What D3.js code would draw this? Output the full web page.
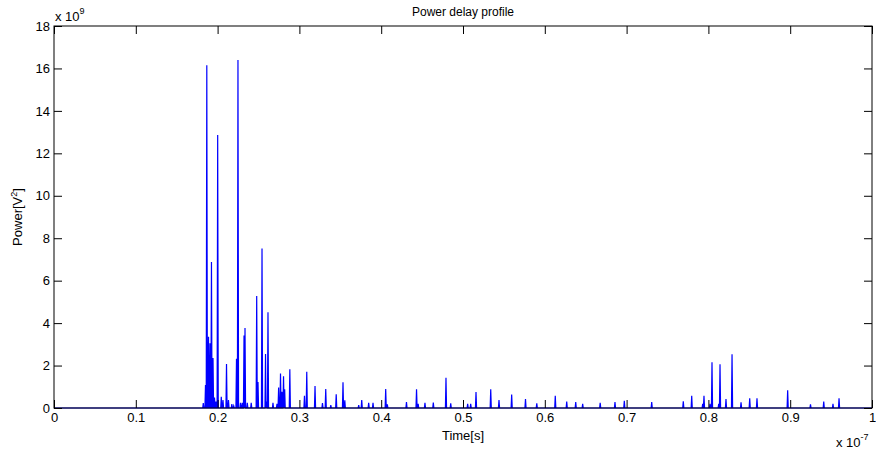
<!DOCTYPE html>
<html>
<head>
<meta charset="utf-8">
<script src="https://cdn.jsdelivr.net/npm/d3@7"></script>
<style>
  body { margin: 0; background: #fff; }
  text { font-family: "Liberation Sans", Arial, sans-serif; fill: #000; }
</style>
</head>
<body>
<svg id="chart" width="876" height="453"></svg>
<script>
// Arrival times of the multipath components (x 1e-7 s) and their power (x 1e9 V^2)
const spikeTime = [
  0.1825, 0.1852, 0.1868, 0.1889, 0.1907, 0.1925, 0.1944, 0.1962, 0.1980, 0.2001,
  0.2045, 0.2066, 0.2109, 0.2133, 0.2174, 0.2197, 0.2231, 0.2249, 0.2280, 0.2302,
  0.2323, 0.2335, 0.2363, 0.2411, 0.2478, 0.2494, 0.2543, 0.2586, 0.2598, 0.2616,
  0.2677, 0.2726, 0.2746, 0.2769, 0.2787, 0.2806, 0.2820, 0.2883, 0.3062, 0.3090,
  0.3191, 0.3282, 0.3322, 0.3384, 0.3450, 0.3533, 0.3555, 0.3725, 0.3762, 0.3847,
  0.3900, 0.4055, 0.4075, 0.4309, 0.4432, 0.4452, 0.4535, 0.4637, 0.4792, 0.4850,
  0.5057, 0.5094, 0.5159, 0.5339, 0.5440, 0.5595, 0.5764, 0.5902, 0.6128, 0.6268,
  0.6378, 0.6463, 0.6677, 0.6858, 0.6972, 0.7307, 0.7693, 0.7796, 0.7930, 0.7946,
  0.8020, 0.8044, 0.8126, 0.8142, 0.8215, 0.8289, 0.8399, 0.8505, 0.8594, 0.8969,
  0.9248, 0.9410, 0.9523, 0.9597
];
const spikePower = [
  0.23, 1.08, 16.15, 3.36, 3.05, 6.88, 2.36, 0.49, 0.30, 12.86,
  0.53, 0.38, 2.07, 0.38, 0.19, 0.10, 2.32, 16.40, 0.25, 0.25,
  3.42, 3.77, 0.25, 0.25, 5.28, 1.22, 7.52, 2.55, 0.30, 4.51,
  0.25, 0.20, 0.96, 1.63, 0.77, 1.50, 0.88, 1.82, 0.58, 1.71,
  1.04, 0.23, 0.90, 0.14, 0.65, 1.21, 0.36, 0.14, 0.38, 0.24,
  0.24, 0.90, 0.17, 0.28, 0.88, 0.20, 0.25, 0.26, 1.42, 0.22,
  0.20, 0.20, 0.75, 0.88, 0.38, 0.64, 0.42, 0.22, 0.57, 0.30,
  0.28, 0.20, 0.25, 0.28, 0.34, 0.28, 0.32, 0.57, 0.20, 0.58,
  0.20, 2.15, 0.20, 2.06, 0.42, 2.53, 0.27, 0.46, 0.46, 0.84,
  0.17, 0.30, 0.20, 0.46
];
const xTickValues = [0, 0.1, 0.2, 0.3, 0.4, 0.5, 0.6, 0.7, 0.8, 0.9, 1];
const xTickLabels = ["0", "0.1", "0.2", "0.3", "0.4", "0.5", "0.6", "0.7", "0.8", "0.9", "1"];
const yTickValues = [0, 2, 4, 6, 8, 10, 12, 14, 16, 18];
const yTickLabels = ["0", "2", "4", "6", "8", "10", "12", "14", "16", "18"];
const sampleStep = 0.0007; // half-width of each impulse, x 1e-7 s

const svg = d3.select("#chart");
const W = 876, H = 453;
const m = { left: 54, right: 4, top: 26, bottom: 45 };
const pw = W - m.left - m.right, ph = H - m.top - m.bottom;

const x = d3.scaleLinear().domain([0, 1]).range([m.left, m.left + pw]);
const y = d3.scaleLinear().domain([0, 18]).range([m.top + ph, m.top]);

// Build the sampled impulse response: zero baseline with a narrow peak per component
const pts = [[0, 0]];
spikeTime.forEach((t, i) => {
  const start = t - sampleStep;
  const last = pts[pts.length - 1];
  if (last[0] > start) {
    last[0] = (last[0] + start) / 2;
  } else {
    pts.push([start, 0]);
  }
  pts.push([t, spikePower[i]]);
  pts.push([t + sampleStep, 0]);
});
pts.push([1, 0]);

const line = d3.line().x(d => x(d[0])).y(d => y(d[1]));
svg.append("path")
  .datum(pts)
  .attr("d", line)
  .attr("fill", "none")
  .attr("stroke", "#0000ff")
  .attr("stroke-width", 1.2)
  .attr("stroke-linejoin", "miter");

// Axes with inward ticks on all four sides
const tickLen = 8;
const fontSize = 13;
const gx = svg.append("g").attr("transform", `translate(0,${m.top + ph})`)
  .call(d3.axisBottom(x).tickValues(xTickValues).tickFormat((d, i) => xTickLabels[i])
    .tickSizeInner(-tickLen).tickSizeOuter(0).tickPadding(5));
const gxt = svg.append("g").attr("transform", `translate(0,${m.top})`)
  .call(d3.axisTop(x).tickValues(xTickValues).tickFormat("")
    .tickSizeInner(-tickLen).tickSizeOuter(0));
const gy = svg.append("g").attr("transform", `translate(${m.left},0)`)
  .call(d3.axisLeft(y).tickValues(yTickValues).tickFormat((d, i) => yTickLabels[i])
    .tickSizeInner(-tickLen).tickSizeOuter(0).tickPadding(4));
const gyr = svg.append("g").attr("transform", `translate(${m.left + pw},0)`)
  .call(d3.axisRight(y).tickValues(yTickValues).tickFormat("")
    .tickSizeInner(-tickLen).tickSizeOuter(0));

[gx, gxt, gy, gyr].forEach(g => {
  g.selectAll(".domain").remove();
  g.selectAll("line").attr("stroke", "#000").attr("stroke-width", 1);
  g.selectAll("text").attr("font-size", fontSize)
    .attr("font-family", '"Liberation Sans", Arial, sans-serif').attr("fill", "#000");
});

svg.append("rect")
  .attr("x", m.left).attr("y", m.top).attr("width", pw).attr("height", ph)
  .attr("fill", "none").attr("stroke", "#000").attr("stroke-width", 1);

// Title and axis labels
svg.append("text").attr("x", m.left + pw / 2).attr("y", 16)
  .attr("text-anchor", "middle").attr("font-size", 12).text("Power delay profile");

svg.append("text").attr("x", m.left + pw / 2).attr("y", 440)
  .attr("text-anchor", "middle").attr("font-size", 13).text("Time[s]");

const yl = svg.append("text")
  .attr("transform", `translate(22,${m.top + ph / 2}) rotate(-90)`)
  .attr("text-anchor", "middle").attr("font-size", 13);
yl.append("tspan").text("Power[V");
yl.append("tspan").attr("font-size", 9).attr("dy", -5).text("2");
yl.append("tspan").attr("dy", 5).text("]");

// Scale exponents
const ey = svg.append("text").attr("x", m.left + 1).attr("y", 21).attr("font-size", 13);
ey.append("tspan").text("x 10");
ey.append("tspan").attr("font-size", 9).attr("dy", -7).text("9");

const ex = svg.append("text").attr("x", 836).attr("y", 447).attr("font-size", 13);
ex.append("tspan").text("x 10");
ex.append("tspan").attr("font-size", 9).attr("dy", -7).text("-7");
</script>
</body>
</html>
